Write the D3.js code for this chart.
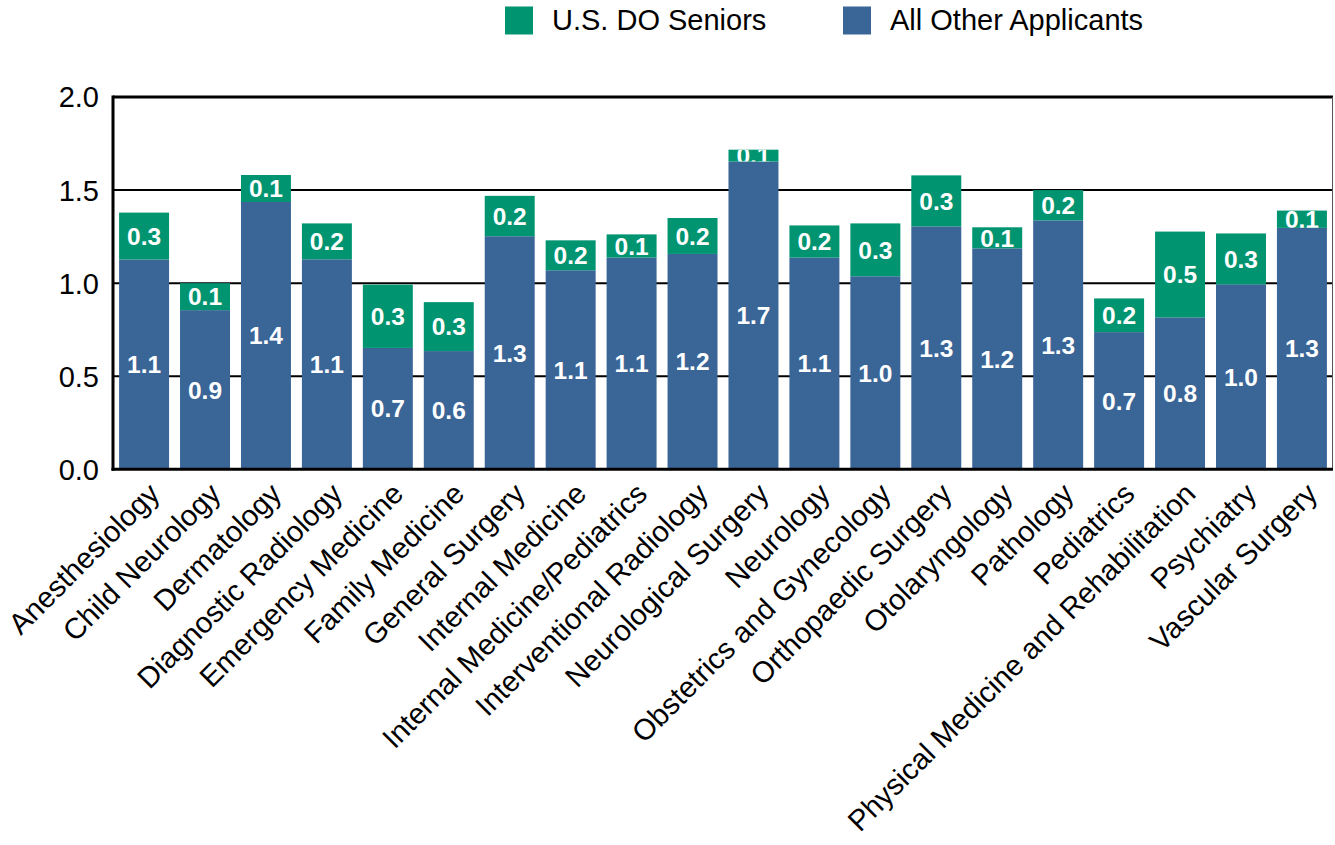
<!DOCTYPE html>
<html>
<head>
<meta charset="utf-8">
<script src="https://cdn.jsdelivr.net/npm/d3@7"></script>
<style>
  html, body { margin: 0; padding: 0; background: #ffffff; }
  svg { display: block; font-family: "Liberation Sans", Arial, sans-serif; }
</style>
</head>
<body>
<svg id="chart" width="1335" height="845"></svg>
<script>
const categories = [
  "Anesthesiology", "Child Neurology", "Dermatology", "Diagnostic Radiology",
  "Emergency Medicine", "Family Medicine", "General Surgery", "Internal Medicine",
  "Internal Medicine/Pediatrics", "Interventional Radiology", "Neurological Surgery",
  "Neurology", "Obstetrics and Gynecology", "Orthopaedic Surgery", "Otolaryngology",
  "Pathology", "Pediatrics", "Physical Medicine and Rehabilitation", "Psychiatry",
  "Vascular Surgery"
];
const otherApplicants = [1.127, 0.855, 1.436, 1.128, 0.652, 0.635, 1.252, 1.069, 1.137, 1.157,
  1.653, 1.137, 1.037, 1.305, 1.187, 1.337, 0.737, 0.816, 0.993, 1.297];
const doSeniors = [0.252, 0.145, 0.145, 0.193, 0.340, 0.263, 0.217, 0.161, 0.125, 0.193,
  0.064, 0.173, 0.284, 0.274, 0.113, 0.163, 0.181, 0.461, 0.274, 0.093];
const seriesNames = ["U.S. DO Seniors", "All Other Applicants"];
const yTicks = [0, 0.5, 1.0, 1.5, 2.0];

const colGreen = "#009471";
const colBlue = "#3a6597";

const svg = d3.select("#chart");
const margin = { left: 113, right: 2, top: 97 };
const W = 1335, H = 845;
const x0 = margin.left, x1 = W - margin.right;
const yTop = margin.top, yBot = 469.3;

const x = d3.scaleBand().domain(categories).range([x0, x1]).paddingInner(0.18).paddingOuter(0.1);
const y = d3.scaleLinear().domain([0, 2]).range([yBot, yTop]);

// gridlines
svg.append("g").selectAll("line").data(yTicks.filter(t => t > 0)).join("line")
  .attr("x1", x0).attr("x2", x1)
  .attr("y1", d => y(d)).attr("y2", d => y(d))
  .attr("stroke", "#000").attr("stroke-width", d => d === 2 ? 3 : 2);

// right border
svg.append("line").attr("x1", x1 - 0.5).attr("x2", x1 - 0.5).attr("y1", y(2)).attr("y2", yBot)
  .attr("stroke", "#555").attr("stroke-width", 1);

const data = categories.map((c, i) => ({ c, other: otherApplicants[i], senior: doSeniors[i] }));

// clip paths for green labels
const defs = svg.append("defs");
data.forEach((d, i) => {
  defs.append("clipPath").attr("id", "clipg" + i).append("rect")
    .attr("x", x(d.c)).attr("width", x.bandwidth())
    .attr("y", y(d.other + d.senior)).attr("height", y(d.other) - y(d.other + d.senior));
});

const bars = svg.append("g");
bars.selectAll("rect.blue").data(data).join("rect").attr("class", "blue")
  .attr("x", d => x(d.c)).attr("width", x.bandwidth())
  .attr("y", d => y(d.other)).attr("height", d => y(0) - y(d.other))
  .attr("fill", colBlue);
bars.selectAll("rect.green").data(data).join("rect").attr("class", "green")
  .attr("x", d => x(d.c)).attr("width", x.bandwidth())
  .attr("y", d => y(d.other + d.senior)).attr("height", d => y(d.other) - y(d.other + d.senior))
  .attr("fill", colGreen);

// value labels
const lab = svg.append("g").attr("font-weight", "bold").attr("font-size", 24.5)
  .attr("fill", "#fff").attr("text-anchor", "middle");
lab.selectAll("text.bl").data(data).join("text").attr("class", "bl")
  .attr("x", d => x(d.c) + x.bandwidth() / 2)
  .attr("y", d => (y(0) + y(d.other)) / 2)
  .attr("dy", "0.36em")
  .text(d => d.other.toFixed(1));
lab.selectAll("text.gl").data(data).join("text").attr("class", "gl")
  .attr("clip-path", (d, i) => "url(#clipg" + i + ")")
  .attr("x", d => x(d.c) + x.bandwidth() / 2)
  .attr("y", d => (y(d.other) + y(d.other + d.senior)) / 2)
  .attr("dy", "0.36em")
  .text(d => d.senior.toFixed(1));

// axes lines
svg.append("line").attr("x1", x0).attr("x2", x0).attr("y1", y(2) - 1.5).attr("y2", yBot + 1.5)
  .attr("stroke", "#000").attr("stroke-width", 3);
svg.append("line").attr("x1", x0 - 1.5).attr("x2", x1).attr("y1", yBot).attr("y2", yBot)
  .attr("stroke", "#000").attr("stroke-width", 3);

// y tick labels
svg.append("g").selectAll("text").data(yTicks).join("text")
  .attr("x", 99).attr("y", d => y(d)).attr("dy", "0.36em")
  .attr("text-anchor", "end").attr("font-size", 29).attr("fill", "#000")
  .text(d => d.toFixed(1));

// category labels
svg.append("g").selectAll("text").data(categories).join("text")
  .attr("transform", d => `translate(${x(d) + x.bandwidth() / 2 + 10},${yBot + 19}) rotate(-45)`)
  .attr("text-anchor", "end").attr("dy", "0.35em")
  .attr("font-size", 29.3).attr("fill", "#000")
  .text(d => d);

// legend
const legend = svg.append("g");
const legItems = [
  { name: seriesNames[0], color: colGreen, x: 505 },
  { name: seriesNames[1], color: colBlue, x: 843 }
];
legItems.forEach(it => {
  legend.append("rect").attr("x", it.x).attr("y", 6.5).attr("width", 28).attr("height", 28).attr("fill", it.color);
  legend.append("text").attr("x", it.x + 47).attr("y", 30).attr("font-size", 29).attr("fill", "#000").text(it.name);
});
</script>
</body>
</html>
